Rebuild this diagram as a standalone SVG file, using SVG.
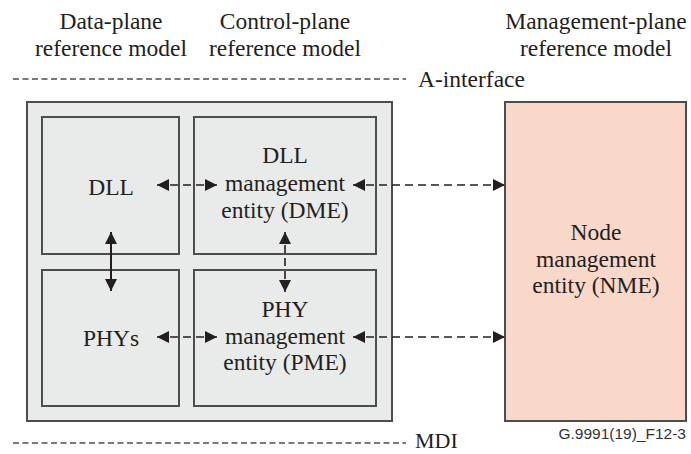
<svg xmlns="http://www.w3.org/2000/svg" width="691" height="454" viewBox="0 0 691 454">
  <style>
    .t { font-family: "Liberation Serif", "Times New Roman", "DejaVu Serif", serif; font-size: 23.5px; fill: #231f20; text-anchor: middle; }
    .ts { font-family: "Liberation Sans", Arial, sans-serif; font-size: 15.5px; fill: #333333; text-anchor: end; }
    .box { fill: #e9eaea; stroke: #4d4d4d; stroke-width: 2; }
    .nme { fill: #f9d8ca; stroke: #4d4d4d; stroke-width: 2; }
    .ref { stroke: #4d4d4d; stroke-width: 1.6; stroke-dasharray: 6 3.5; fill: none; }
    .solid { stroke: #231f20; stroke-width: 2; fill: none; }
    .dash { stroke: #231f20; stroke-width: 1.6; stroke-dasharray: 8 5; fill: none; }
  </style>
  <defs>
    <marker id="ah" viewBox="0 0 12 12" refX="12" refY="6" markerWidth="12" markerHeight="12" markerUnits="userSpaceOnUse" orient="auto-start-reverse">
      <path d="M0,0 L12,6 L0,12 Z" fill="#231f20"/>
    </marker>
  </defs>

  <g id="headers">
    <text class="t" x="111" y="29">Data-plane</text>
    <text class="t" x="111" y="56">reference model</text>
    <text class="t" x="285" y="29">Control-plane</text>
    <text class="t" x="285" y="56">reference model</text>
    <text class="t" x="596" y="29">Management-plane</text>
    <text class="t" x="596" y="56">reference model</text>
  </g>

  <g id="a-interface">
    <line class="ref" x1="13" y1="79" x2="406" y2="79"/>
    <text class="t" x="418" y="87" style="text-anchor:start">A-interface</text>
  </g>

  <g id="mdi">
    <line class="ref" x1="13" y1="443" x2="406" y2="443"/>
    <text class="t" x="415" y="448" style="text-anchor:start;font-size:22px">MDI</text>
  </g>

  <g id="container">
    <rect class="box" x="27" y="102" width="365" height="319"/>
  </g>

  <g id="dll">
    <rect class="box" x="42" y="117" width="137" height="137"/>
    <text class="t" x="111" y="195">DLL</text>
  </g>

  <g id="phys">
    <rect class="box" x="42" y="270" width="137" height="136"/>
    <text class="t" x="111" y="346">PHYs</text>
  </g>

  <g id="dme">
    <rect class="box" x="194" y="117" width="182" height="137"/>
    <text class="t" x="285" y="163">DLL</text>
    <text class="t" x="285" y="191">management</text>
    <text class="t" x="285" y="218">entity (DME)</text>
  </g>

  <g id="pme">
    <rect class="box" x="194" y="270" width="182" height="136"/>
    <text class="t" x="285" y="317">PHY</text>
    <text class="t" x="285" y="344">management</text>
    <text class="t" x="285" y="370">entity (PME)</text>
  </g>

  <g id="nme">
    <rect class="nme" x="505" y="102" width="181" height="319"/>
    <text class="t" x="596" y="240">Node</text>
    <text class="t" x="596" y="267">management</text>
    <text class="t" x="596" y="293">entity (NME)</text>
  </g>

  <g id="connectors">
    <line class="dash" x1="157" y1="185" x2="217" y2="185" marker-start="url(#ah)" marker-end="url(#ah)"/>
    <line class="dash" x1="157" y1="337" x2="217" y2="337" marker-start="url(#ah)" marker-end="url(#ah)"/>
    <line class="dash" x1="353" y1="185" x2="505" y2="185" marker-start="url(#ah)" marker-end="url(#ah)"/>
    <line class="dash" x1="353" y1="337" x2="505" y2="337" marker-start="url(#ah)" marker-end="url(#ah)"/>
    <line class="solid" x1="111" y1="232" x2="111" y2="291" marker-start="url(#ah)" marker-end="url(#ah)"/>
    <line class="dash" x1="285" y1="232" x2="285" y2="292" marker-start="url(#ah)" marker-end="url(#ah)"/>
  </g>

  <text class="ts" x="686" y="439">G.9991(19)_F12-3</text>
</svg>
